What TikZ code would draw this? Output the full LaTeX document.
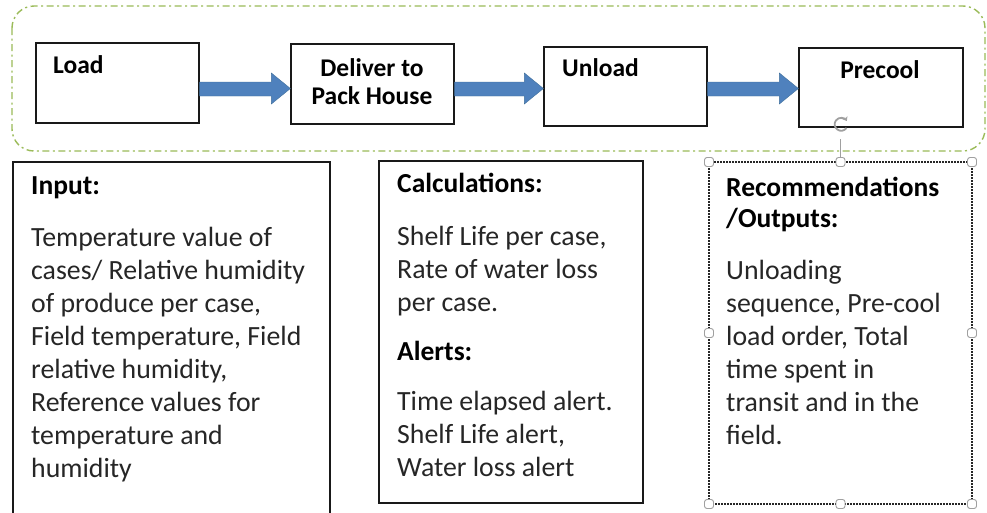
\documentclass[tikz,border=0pt]{standalone}
\usepackage{fontspec}
\setmainfont{Carlito}
\usetikzlibrary{calc,arrows.meta}
\definecolor{arrowblue}{RGB}{79,129,189}
\definecolor{arrowedge}{RGB}{65,113,156}
\definecolor{framegreen}{RGB}{155,187,89}
\definecolor{bodytext}{RGB}{38,38,38}
\definecolor{handlegray}{RGB}{160,160,160}
\tikzset{
  stepbox/.style={draw=black!90, line width=1.3pt, fill=white, inner sep=0pt},
  toptext/.style={font=\fontsize{25.5}{28}\selectfont\bfseries, inner sep=0pt, text=black},
  headtext/.style={font=\fontsize{27.5}{33}\selectfont\bfseries, inner sep=0pt, anchor=base west, text=black},
  bodyline/.style={font=\fontsize{27.8}{33}\selectfont, inner sep=0pt, anchor=base west, text=bodytext},
  handle/.style={draw=handlegray, fill=white, line width=0.9pt, rounded corners=2.5pt, minimum size=9pt, inner sep=0pt},
}
\newcommand\blockarrow[2]{%
  \fill[arrowblue, draw=arrowedge, line width=0.4pt]
    (#1.east |- 0,82) -- ($(#2.west |- 0,82)+(-19,0)$) -- ($(#2.west |- 0,73)+(-19,0)$)
    -- (#2.west |- 0,88.5) -- ($(#2.west |- 0,104)+(-19,0)$) -- ($(#2.west |- 0,96)+(-19,0)$)
    -- (#1.east |- 0,96) -- cycle;}
\begin{document}
\begin{tikzpicture}[x=1pt,y=-1pt]
\useasboundingbox[fill=white] (0,0) rectangle (987,512);
% green dash-dot frame
\draw[framegreen, line width=1.4pt, dash pattern=on 7pt off 3.5pt on 2pt off 3.5pt, rounded corners=22pt]
  (12,6) rectangle (985,151);
% top boxes
\node[stepbox, minimum width=163pt, minimum height=80pt] (load) at (117.5,83) {};
\node[stepbox, minimum width=163pt, minimum height=80pt] (deliver) at (372.5,84) {};
\node[stepbox, minimum width=163pt, minimum height=79pt] (unload) at (625.5,86.5) {};
\node[stepbox, minimum width=164pt, minimum height=79pt] (precool) at (881,87.5) {};
\node[toptext, anchor=base west] (loadt) at (53,73) {Load};
\node[toptext, anchor=base] (delt1) at (372,76) {Deliver to};
\node[toptext, anchor=base] (delt2) at (372,104) {Pack House};
\node[toptext, anchor=base west] (unlt) at (562,76) {Unload};
\node[toptext, anchor=base] (pret) at (880,78) {Precool};
% arrows
\blockarrow{load}{deliver}
\blockarrow{deliver}{unload}
\blockarrow{unload}{precool}
% bottom boxes
\draw[draw=black!90, line width=1.3pt] (13,520) -- (13,162) -- (330,162) -- (330,520);
\node[stepbox, minimum width=264pt, minimum height=342pt] (calc) at (511,332) {};
\draw[draw=black!85, line width=1.2pt, dash pattern=on 2pt off 1pt] (709,162) rectangle (972,504);
\coordinate (rtop) at (840.5,162);
% input text
\node[headtext] (inh) at (31,194) {Input:};
\foreach \t [count=\i] in {{Temperature value of},{cases/ Relative humidity},{of produce per case,},{Field temperature, Field},{relative humidity,},{Reference values for},{temperature and},{humidity}}
  \node[bodyline] (in\i) at (31,{246+33*(\i-1)}) {\t};
% calculations text
\node[headtext] (calh) at (397,192) {Calculations:};
\node[bodyline] (cal1) at (397,245) {Shelf Life per case,};
\node[bodyline] (cal2) at (397,278) {Rate of water loss};
\node[bodyline] (cal3) at (397,311) {per case.};
\node[headtext] (alh) at (397,360) {Alerts:};
\node[bodyline] (al1) at (397,410) {Time elapsed alert.};
\node[bodyline] (al2) at (397,443) {Shelf Life alert,};
\node[bodyline] (al3) at (397,476) {Water loss alert};
% recommendations text
\node[headtext] (rech1) at (726,196) {Recommendations};
\node[headtext] (rech2) at (726,227) {/Outputs:};
\foreach \t [count=\i] in {{Unloading},{sequence, Pre-cool},{load order, Total},{time spent in},{transit and in the},{field.}}
  \node[bodyline] (rec\i) at (726,{279+33*(\i-1)}) {\t};
% selection handles
\draw[handlegray, line width=1pt] (840.5,139) -- (rtop);
\draw[handlegray, line width=1.8pt, -{Stealth[length=4pt,width=6pt]}] (846.5,128) arc[start angle=35, end angle=330, radius=6.5];
\foreach \hx/\hy [count=\k] in {709/162, 840.5/162, 972/162, 709/333, 972/333, 709/504, 840.5/504, 972/504}
  \node[handle] (h\k) at (\hx,\hy) {};
\end{tikzpicture}
\end{document}
